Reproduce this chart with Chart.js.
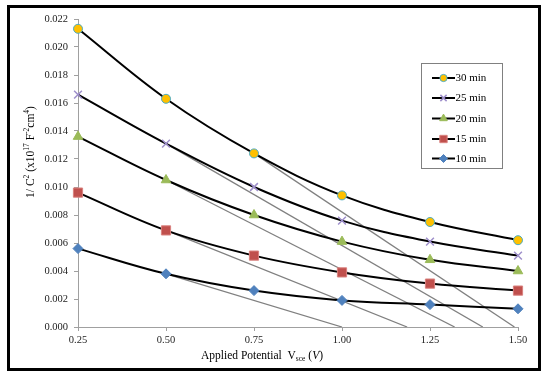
<!DOCTYPE html>
<html>
<head>
<meta charset="utf-8">
<script src="https://cdn.jsdelivr.net/npm/chart.js@4"></script>
<style>
  html, body { margin: 0; padding: 0; background: #fff; }
  #wrap { width: 545px; height: 378px; }
</style>
</head>
<body>
<div id="wrap"><canvas id="c" width="545" height="378"></canvas></div>
<script>
const xValues = [0.25, 0.50, 0.75, 1.00, 1.25, 1.50];
const seriesLabels = ['30 min', '25 min', '20 min', '15 min', '10 min'];
const min30 = [0.0213, 0.0163, 0.0124, 0.0094, 0.0075, 0.0062];
const min25 = [0.0166, 0.0131, 0.0100, 0.0076, 0.0061, 0.0051];
const min20 = [0.0136, 0.0105, 0.0080, 0.0061, 0.0048, 0.0040];
const min15 = [0.0096, 0.0069, 0.0051, 0.0039, 0.0031, 0.0026];
const min10 = [0.0056, 0.0038, 0.0026, 0.0019, 0.0016, 0.0013];
// tangent lines (30, 25, 20, 15, 10 min): start point and x-intercept
const tangentStartX = [0.75, 0.50, 0.50, 0.50, 0.50];
const tangentStartY = [0.0124, 0.0131, 0.0105, 0.0069, 0.0038];
const tangentInterceptX = [1.49, 1.40, 1.32, 1.185, 1.00];
const yTicks = [0, 0.002, 0.004, 0.006, 0.008, 0.010, 0.012, 0.014, 0.016, 0.018, 0.020, 0.022];
const xTicks = [0.25, 0.50, 0.75, 1.00, 1.25, 1.50];

const SERIF = '"Liberation Serif", "Times New Roman", serif';
const seriesValues = [min30, min25, min20, min15, min10];
const styles = [
  { pointStyle: 'circle',   radius: 4.5, bg: '#FFC000', border: '#4BACC6', bw: 1 },
  { pointStyle: 'crossRot', radius: 5.5, bg: '#9E8FCB', border: '#9E8FCB', bw: 1.5 },
  { pointStyle: 'triangle', radius: 5.5, bg: '#9BBB59', border: '#9BBB59', bw: 1 },
  { pointStyle: 'rect',     radius: 6.5, bg: '#C0504D', border: '#D9817E', bw: 1 },
  { pointStyle: 'rectRot',  radius: 5,   bg: '#4F81BD', border: '#4F81BD', bw: 1 }
];

const datasets = [];
seriesValues.forEach((vals, i) => {
  const s = styles[i];
  datasets.push({
    label: seriesLabels[i],
    data: vals.map((v, j) => ({ x: xValues[j], y: v })),
    borderColor: '#000',
    borderWidth: 2,
    tension: 0.38,
    pointStyle: s.pointStyle,
    pointRadius: s.radius,
    pointBackgroundColor: s.bg,
    pointBorderColor: s.border,
    pointBorderWidth: s.bw,
    order: 1,
    clip: false,
    fill: false
  });
});
tangentStartX.forEach((sx, i) => {
  datasets.push({
    label: 'tangent' + i,
    data: [{ x: sx, y: tangentStartY[i] }, { x: tangentInterceptX[i], y: 0 }],
    borderColor: '#808080',
    borderWidth: 1.3,
    pointRadius: 0,
    tension: 0,
    order: 10,
    fill: false
  });
});

const decorPlugin = {
  id: 'decor',
  beforeDraw(chart) {
    const ctx = chart.ctx;
    ctx.save();
    ctx.fillStyle = '#fff';
    ctx.fillRect(0, 0, chart.width, chart.height);
    ctx.restore();
  },
  afterDraw(chart) {
    const ctx = chart.ctx;
    ctx.save();
    // outer frame
    ctx.strokeStyle = '#000';
    ctx.lineWidth = 3;
    ctx.strokeRect(8.5, 6.5, 531, 363);

    function runs(parts, x, y, align) {
      let total = 0;
      parts.forEach(p => { ctx.font = p.font; p.w = ctx.measureText(p.t).width; total += p.w; });
      let cx = align === 'center' ? x - total / 2 : x;
      parts.forEach(p => {
        ctx.font = p.font;
        ctx.fillText(p.t, cx, y + (p.dy || 0));
        cx += p.w;
      });
    }
    ctx.fillStyle = '#000';
    ctx.textBaseline = 'alphabetic';
    ctx.textAlign = 'left';
    const n = '11.5px ' + SERIF, s = '7.5px ' + SERIF, it = 'italic 11.5px ' + SERIF;
    // x title
    runs([
      { t: 'Applied Potential  V', font: n },
      { t: 'sce', font: s, dy: 2 },
      { t: ' (', font: n },
      { t: 'V', font: it },
      { t: ')', font: n }
    ], 262, 359, 'center');
    // y title (rotated)
    ctx.save();
    ctx.translate(34, 152);
    ctx.rotate(-Math.PI / 2);
    runs([
      { t: '1/ C', font: n },
      { t: '2', font: s, dy: -5 },
      { t: ' (x10', font: n },
      { t: '17', font: s, dy: -5 },
      { t: ' F', font: n },
      { t: '-2', font: s, dy: -5 },
      { t: 'cm', font: n },
      { t: '4', font: s, dy: -5 },
      { t: ')', font: n }
    ], 0, 0, 'center');
    ctx.restore();

    // legend
    ctx.fillStyle = '#fff';
    ctx.fillRect(421.5, 63.5, 81, 105);
    ctx.strokeStyle = '#808080';
    ctx.lineWidth = 1;
    ctx.strokeRect(421.5, 63.5, 81, 105);
    const ys = [78, 98, 118.5, 139, 158.5];
    seriesLabels.forEach((lab, i) => {
      const st = styles[i];
      const y = ys[i];
      ctx.strokeStyle = '#000';
      ctx.lineWidth = 2;
      ctx.beginPath();
      ctx.moveTo(432, y);
      ctx.lineTo(455, y);
      ctx.stroke();
      ctx.fillStyle = st.bg;
      ctx.strokeStyle = st.border;
      ctx.lineWidth = st.bw;
      Chart.helpers.drawPoint(ctx, { pointStyle: st.pointStyle, radius: st.radius * 0.8, borderWidth: st.bw }, 443.5, y);
      ctx.fillStyle = '#000';
      ctx.font = '11px ' + SERIF;
      ctx.textBaseline = 'middle';
      ctx.fillText(lab, 455.5, y + 0.5);
    });
    ctx.restore();
  }
};

new Chart(document.getElementById('c'), {
  type: 'line',
  data: { datasets },
  options: {
    responsive: false,
    animation: false,
    layout: { padding: { top: 19, right: 27, bottom: 0, left: 0 } },
    plugins: { legend: { display: false }, tooltip: { enabled: false } },
    scales: {
      x: {
        type: 'linear',
        min: 0.25, max: 1.5,
        afterFit(scale) { scale.height = 51; },
        afterBuildTicks(scale) { scale.ticks = xTicks.map(v => ({ value: v })); },
        border: { display: true, color: '#A0A0A0', width: 1 },
        grid: { display: true, drawOnChartArea: false, drawTicks: true, tickLength: 4, color: '#A0A0A0' },
        ticks: {
          font: { family: SERIF, size: 10.5 },
          color: '#222',
          padding: 3,
          maxRotation: 0,
          callback: v => Number(v).toFixed(2)
        }
      },
      y: {
        type: 'linear',
        min: 0, max: 0.022,
        afterFit(scale) { scale.width = 78; },
        afterBuildTicks(scale) { scale.ticks = yTicks.map(v => ({ value: v })); },
        border: { display: true, color: '#A0A0A0', width: 1 },
        grid: { display: true, drawOnChartArea: false, drawTicks: true, tickLength: 4, color: '#A0A0A0' },
        ticks: {
          font: { family: SERIF, size: 10.5 },
          color: '#222',
          padding: 6,
          callback: v => Number(v).toFixed(3)
        }
      }
    }
  },
  plugins: [decorPlugin]
});
</script>
</body>
</html>
